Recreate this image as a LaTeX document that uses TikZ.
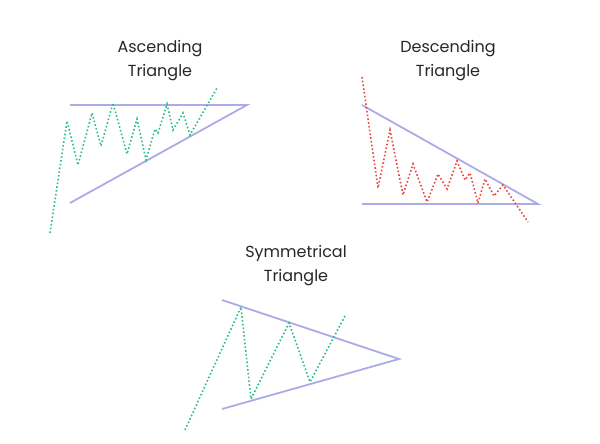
\documentclass[tikz,border=0pt]{standalone}
\usepackage{fontspec}
\setmainfont{Poppins}
\begin{document}
\begin{tikzpicture}[x=1pt,y=-1pt,
  tl/.style={draw=trl,line width=1.8pt},
  gz/.style={draw=grn,line width=1.6pt,dash pattern=on 1.6pt off 2.2pt},
  rz/.style={draw=rd,line width=1.6pt,dash pattern=on 1.6pt off 2.2pt},
  ttl/.style={font=\fontsize{16}{24}\selectfont,align=center,text=black!85}]
\definecolor{trl}{HTML}{ABABE8}
\definecolor{grn}{HTML}{2DBE8C}
\definecolor{rd}{HTML}{E8483B}
\useasboundingbox (0,0) rectangle (600,444);
\node[ttl] (t1) at (160,61) {Ascending\\Triangle};
\node[ttl] (t2) at (448,61) {Descending\\Triangle};
\node[ttl] (t3) at (296,266) {Symmetrical\\Triangle};
% ascending
\coordinate (a1) at (70,105); \coordinate (a2) at (247,105); \coordinate (a3) at (70,203);
\draw[tl] (a1)--(a2)--(a3);
\draw[gz] (50,233)--(67,121)--(78,165)--(92,113)--(101,146)--(113,103)--(127,154)--(137,119)--(146,160)--(155,129)--(158,133)--(167,104)--(173,130)--(183,113)--(190,135)--(217,88);
% descending
\coordinate (d1) at (362,105); \coordinate (d2) at (538,204); \coordinate (d3) at (362,204);
\draw[tl] (d1)--(d2)--(d3);
\draw[rz] (362,77)--(378,188)--(390,130)--(403,195)--(413,164)--(427,202)--(438,174)--(447,189)--(457,161)--(465,180)--(470,173)--(478,203)--(485,179)--(494,196)--(503,185)--(528,222);
% symmetrical
\coordinate (s1) at (222,300); \coordinate (s2) at (399,359); \coordinate (s3) at (222,409);
\draw[tl] (s1)--(s2)--(s3);
\draw[gz] (185,430)--(241,307)--(251,399)--(289,323)--(310,382)--(345,316);
\end{tikzpicture}
\end{document}
